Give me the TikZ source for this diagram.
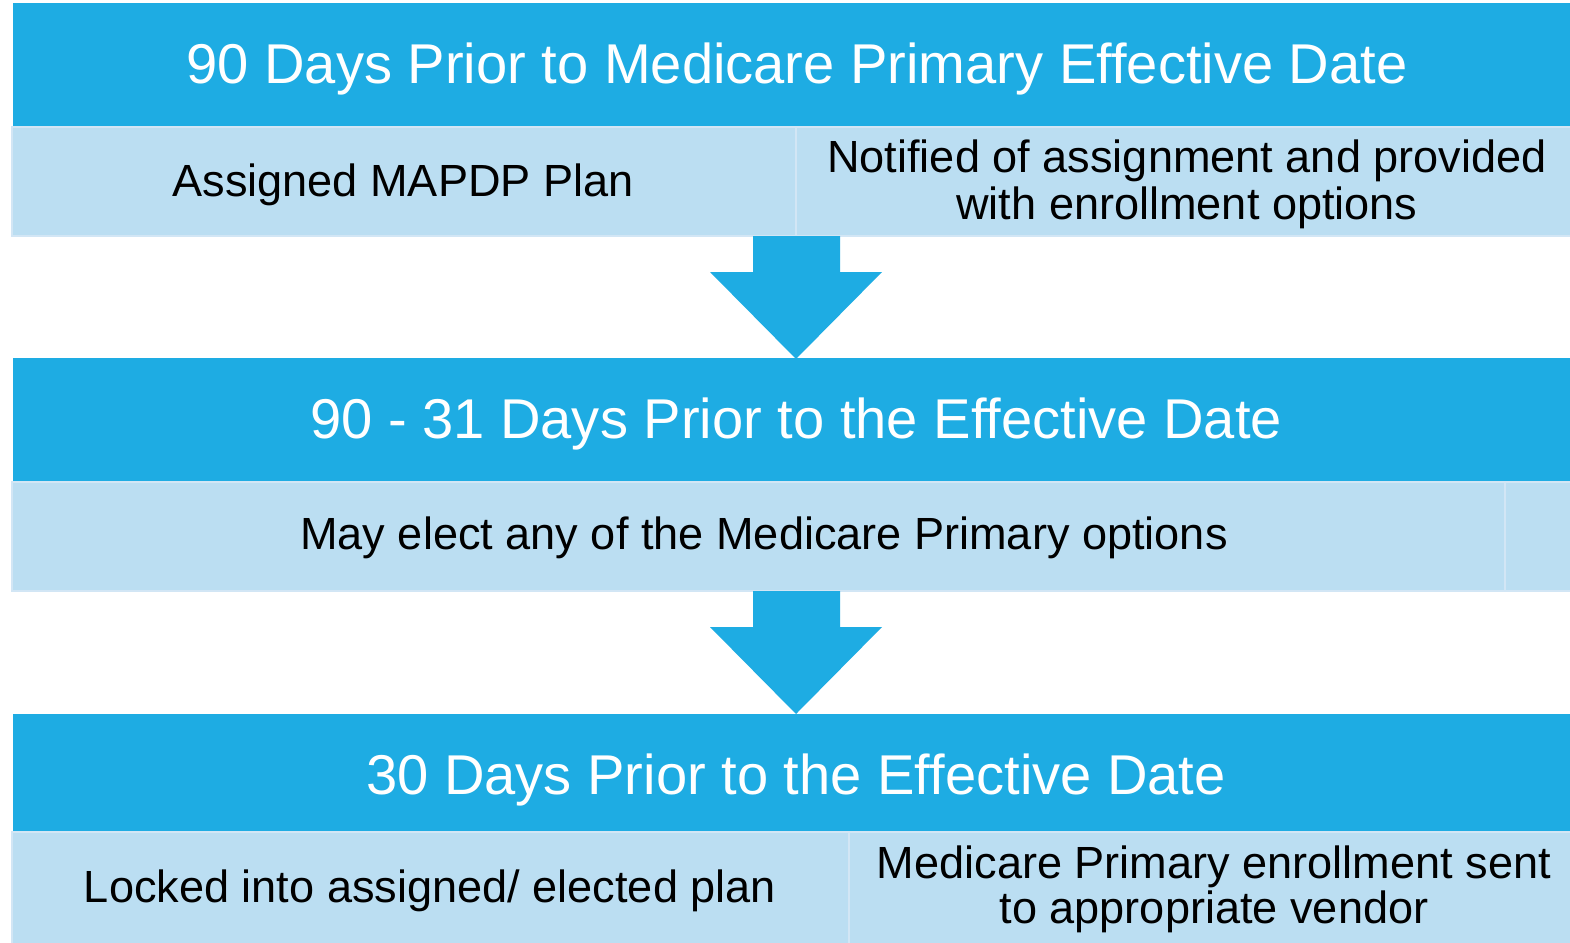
\documentclass[tikz,border=0pt]{standalone}
\usepackage{fontspec}
\setmainfont{Liberation Sans}
\definecolor{hdrblue}{RGB}{30,172,227}
\definecolor{cellblue}{RGB}{187,222,242}
\definecolor{celledge}{RGB}{210,230,245}
\tikzset{
  hdr/.style={fill=hdrblue, draw=none},
  cell/.style={fill=cellblue, draw=celledge, line width=2pt},
  hdrtext/.style={anchor=base, text=white, inner sep=0pt, font=\fontsize{56.1}{60}\selectfont},
  celltext/.style={anchor=base, text=black, inner sep=0pt, font=\fontsize{45.1}{47}\selectfont},
  downarrow/.style={fill=hdrblue, draw=none}
}
\begin{document}
\begin{tikzpicture}[x=1pt,y=-1pt]
\useasboundingbox (0,0) rectangle (1570,942);
\fill[white] (0,0) rectangle (1570,942);

% Section 1
\fill[hdr] (13,3) rectangle (1570,127);
\draw[cell] (12,127) rectangle (796,236);
\draw[cell] (796,127) rectangle (1575,236);
\node[hdrtext] (h1) at (797,83) {90 Days Prior to Medicare Primary Effective Date};
\node[celltext] (c1a) at (403,196) {Assigned MAPDP Plan};
\node[celltext] (c1b1) at (1187,172) {Notified of assignment and provided};
\node[celltext] (c1b2) at (1187,219) {with enrollment options};

% Arrow 1
\fill[downarrow] (753,236) -- (840,236) -- (840,272) -- (882,272) -- (796,359) -- (710,272) -- (753,272) -- cycle;

% Section 2
\fill[hdr] (13,358) rectangle (1570,482);
\draw[cell] (12,482) rectangle (1505,591);
\draw[cell] (1505,482) rectangle (1575,591);
\node[hdrtext] (h2) at (796,438) {90 - 31 Days Prior to the Effective Date};
\node[celltext] (c2a) at (764,549) {May elect any of the Medicare Primary options};

% Arrow 2
\fill[downarrow] (753,591) -- (840,591) -- (840,627) -- (882,627) -- (796,714) -- (710,627) -- (753,627) -- cycle;

% Section 3
\fill[hdr] (13,714) rectangle (1570,832);
\draw[cell] (12,832) rectangle (849,945);
\draw[cell] (849,832) rectangle (1575,945);
\node[hdrtext] (h3) at (796,794) {30 Days Prior to the Effective Date};
\node[celltext] (c3a) at (430,902) {Locked into assigned/ elected plan};
\node[celltext] (c3b1) at (1214,878) {Medicare Primary enrollment sent};
\node[celltext] (c3b2) at (1214,923) {to appropriate vendor};
\end{tikzpicture}
\end{document}
